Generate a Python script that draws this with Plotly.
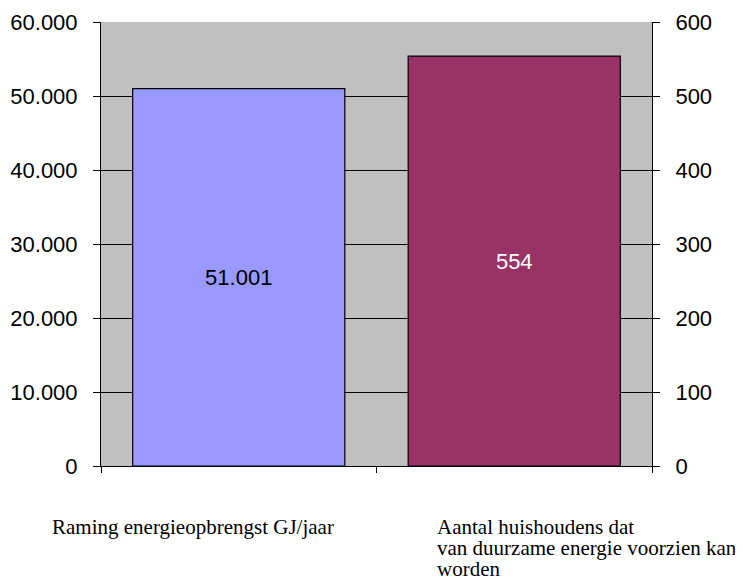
import plotly.graph_objects as go

categories = ["Raming energieopbrengst GJ/jaar",
              "Aantal huishoudens dat<br>van duurzame energie voorzien kan<br>worden"]
energie_gj = [51001]
huishoudens = [554]
left_ticks = [0, 10000, 20000, 30000, 40000, 50000, 60000]
right_ticks = [0, 100, 200, 300, 400, 500, 600]

fig = go.Figure()
fig.add_trace(go.Bar(
    x=[categories[0]], y=energie_gj, yaxis="y", width=0.77,
    marker=dict(color="#9999FF", line=dict(color="#000000", width=1.2)),
    texttemplate="%{y:,d}", textposition="inside", insidetextanchor="middle",
    textangle=0, constraintext="none",
    textfont=dict(family="Liberation Sans, Arial", size=22, color="#000000"),
    showlegend=False))
fig.add_trace(go.Bar(
    x=[categories[1]], y=huishoudens, yaxis="y2", width=0.77,
    marker=dict(color="#993366", line=dict(color="#000000", width=1.2)),
    texttemplate="%{y:,d}", textposition="inside", insidetextanchor="middle",
    textangle=0, constraintext="none",
    textfont=dict(family="Liberation Sans, Arial", size=22, color="#FFFFFF"),
    showlegend=False))

tickfont = dict(family="Liberation Sans, Arial", size=22, color="#000000")

# the page body adds an 8px margin, so the figure is made 8px smaller
fig.update_layout(
    width=735, height=576,
    margin=dict(l=93, r=91, t=14, b=118, autoexpand=False),
    paper_bgcolor="#FFFFFF", plot_bgcolor="#C0C0C0",
    separators=",.",
    barmode="overlay",
    xaxis=dict(categoryorder="array", categoryarray=categories,
               showticklabels=False, ticks="outside", tickson="boundaries",
               ticklen=6, tickcolor="#000000", showline=True,
               linecolor="#000000", linewidth=1, showgrid=False,
               zeroline=False, automargin=False),
    yaxis=dict(range=[0, 60000], tickvals=left_ticks, tickformat=",d",
               showgrid=True, gridcolor="#000000", gridwidth=1,
               showline=True, linecolor="#000000", linewidth=1,
               ticks="outside", ticklen=7, tickcolor="#000000",
               ticklabelstandoff=11, tickfont=tickfont, zeroline=False,
               automargin=False),
    yaxis2=dict(range=[0, 600], tickvals=right_ticks, overlaying="y",
                side="right", showgrid=False, showline=True,
                linecolor="#000000", linewidth=1, ticks="outside", ticklen=7,
                tickcolor="#000000", ticklabelstandoff=11, tickfont=tickfont,
                zeroline=False, automargin=False),
)

label_font = dict(family="Liberation Serif, Times New Roman", size=21, color="#000000")
label_x = [-0.0926, 0.606]
line_offsets = [-61, -82, -103]
for cat, lx in zip(categories, label_x):
    for i, line in enumerate(cat.split("<br>")):
        fig.add_annotation(text=line, xref="paper", yref="paper", x=lx, y=0,
                           xanchor="left", yanchor="middle", yshift=line_offsets[i],
                           showarrow=False, font=label_font, align="left")

fig.write_html("out.html")
